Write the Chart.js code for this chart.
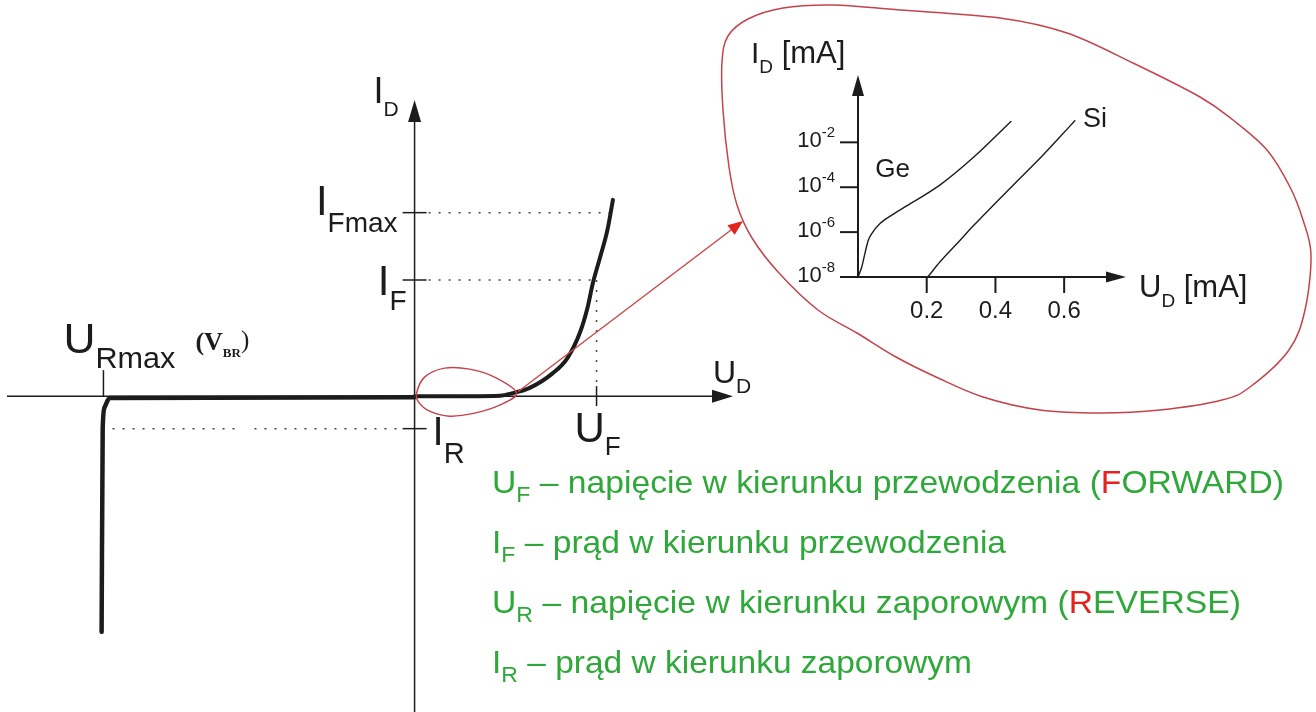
<!DOCTYPE html>
<html lang="pl">
<head>
<meta charset="UTF-8">
<title>Charakterystyka diody</title>
<style>
    body { margin: 0; background: #fff; overflow: hidden; }
    .wrap { position: relative; width: 1316px; height: 712px; }
    .wrap canvas { position: absolute; left: 0; top: 0; }
</style>
</head>
<body>
<div class="wrap">
    <canvas id="charakterystyka" width="1316" height="712"></canvas>
    <canvas id="wstawka" width="1316" height="712"></canvas>
</div>
<script src="https://cdn.jsdelivr.net/npm/chart.js"></script>
<script>
// --- dane: charakterystyka glowna (jednostki wzgledne, U_F = 1, I_F = 1) ---
const przewodzenieU = [0, 0.30, 0.47, 0.54, 0.63, 0.76, 0.84, 0.91, 0.95, 0.98, 1.02, 1.06, 1.09];
const przewodzenieI = [0, 0, 0.004, 0.026, 0.069, 0.198, 0.328, 0.552, 0.759, 0.974, 1.198, 1.431, 1.69];
const zaporoweU = [-1.72, -1.714, -1.703, -1.676, 0];
const zaporoweI = [-2.03, -0.276, -0.095, -0.017, -0.01];

const U_F = 1.0;
const I_F = 1.0;
const I_FMAX = 1.58;
const I_R = -0.28;
const U_RMAX = -1.71;

// --- dane: wstawka logarytmiczna, U_D / I_D [mA] ---
const geU = [0, 0.011, 0.020, 0.030, 0.040, 0.064, 0.104, 0.143, 0.240, 0.337, 0.445];
const geI = [1e-8, 2.8e-8, 1.1e-7, 4.3e-7, 8.5e-7, 2.4e-6, 6.5e-6, 1.5e-5, 1.3e-4, 2.2e-3, 8.5e-2];
const siU = [0.203, 0.240, 0.289, 0.337, 0.396, 0.455, 0.533, 0.582, 0.631];
const siI = [1e-8, 5.0e-8, 3.2e-7, 2.0e-6, 1.7e-5, 1.4e-4, 2.2e-3, 1.4e-2, 9.1e-2];

const tickiU = [0.2, 0.4, 0.6];
const etykietyU = ['0.2', '0.4', '0.6'];
const tickiI = [1e-8, 1e-6, 1e-4, 1e-2];
const wykladnikiI = ['-8', '-6', '-4', '-2'];

const FONT = '"Liberation Sans", Arial, sans-serif';
const SERIF = '"Liberation Serif", "Times New Roman", serif';
const CZARNY = '#1c1c1c';
const ZIELONY = '#2fa83a';
const CZERWONY = '#e3231e';
const OBRYS = '#c4434d';

// fragment napisu: tekst, rozmiar, przesuniecie pionowe, kolor
const cz = (t, r, dy = 0, k = null, f = null, b = false) => ({ t, r, dy, k, f, b });

function napis(ctx, czesci, x, y, wyrownanie = 'left', szerokosc = null) {
    const czcionka = c => `${c.b ? 'bold ' : ''}${c.r}px ${c.f || FONT}`;
    const miary = czesci.map(c => { ctx.font = czcionka(c); return ctx.measureText(c.t).width; });
    const suma = miary.reduce((a, b) => a + b, 0);
    const k = szerokosc ? szerokosc / suma : 1;
    const pelna = suma * k;
    const start = wyrownanie === 'right' ? x - pelna : wyrownanie === 'center' ? x - pelna / 2 : x;
    ctx.save();
    ctx.translate(start, y);
    ctx.scale(k, 1);
    ctx.textAlign = 'left';
    ctx.textBaseline = 'alphabetic';
    let px = 0;
    czesci.forEach((c, i) => {
        ctx.font = czcionka(c);
        ctx.fillStyle = c.k || CZARNY;
        ctx.fillText(c.t, px, c.dy);
        px += miary[i];
    });
    ctx.restore();
}

function grot(ctx, x, y, kat, dl, pol, kolor) {
    ctx.save();
    ctx.translate(x, y);
    ctx.rotate(kat);
    ctx.fillStyle = kolor;
    ctx.beginPath();
    ctx.moveTo(0, 0);
    ctx.lineTo(-dl, -pol);
    ctx.lineTo(-dl, pol);
    ctx.closePath();
    ctx.fill();
    ctx.restore();
}

function linia(ctx, x1, y1, x2, y2) {
    ctx.beginPath();
    ctx.moveTo(x1, y1);
    ctx.lineTo(x2, y2);
    ctx.stroke();
}

// zamknieta gladka krzywa przez punkty (Catmull-Rom)
function petla(ctx, pts) {
    const n = pts.length;
    ctx.beginPath();
    ctx.moveTo(pts[0][0], pts[0][1]);
    for (let i = 0; i < n; i++) {
        const p0 = pts[(i - 1 + n) % n], p1 = pts[i], p2 = pts[(i + 1) % n], p3 = pts[(i + 2) % n];
        ctx.bezierCurveTo(
            p1[0] + (p2[0] - p0[0]) / 6, p1[1] + (p2[1] - p0[1]) / 6,
            p2[0] - (p3[0] - p1[0]) / 6, p2[1] - (p3[1] - p1[1]) / 6,
            p2[0], p2[1]);
    }
    ctx.closePath();
    ctx.stroke();
}

const punkty = (xs, ys) => xs.map((v, i) => ({ x: v, y: ys[i] }));

// osie, znaczniki i linie kropkowane wykresu glownego
const osieGlowne = {
    id: 'osieGlowne',
    beforeDatasetsDraw(chart) {
        const { ctx, chartArea: a, scales: { x, y } } = chart;
        const x0 = x.getPixelForValue(0), y0 = y.getPixelForValue(0);
        ctx.save();
        ctx.strokeStyle = CZARNY;
        ctx.lineWidth = 1.5;
        linia(ctx, a.left, y0, a.right - 16, y0);
        linia(ctx, x0, a.bottom, x0, a.top + 18);
        grot(ctx, a.right, y0, 0, 21, 6.5, CZARNY);
        grot(ctx, x0, a.top, -Math.PI / 2, 22, 6.5, CZARNY);

        [I_FMAX, I_F, I_R].forEach(v => linia(ctx, x0 - 12, y.getPixelForValue(v), x0 + 12, y.getPixelForValue(v)));
        linia(ctx, x.getPixelForValue(U_F), y0 - 10, x.getPixelForValue(U_F), y0 + 10);
        linia(ctx, x.getPixelForValue(U_RMAX), y0 - 26, x.getPixelForValue(U_RMAX), y0);

        ctx.setLineDash([2, 8]);
        ctx.strokeStyle = '#444';
        linia(ctx, x0 + 14, y.getPixelForValue(I_FMAX), x.getPixelForValue(1.08), y.getPixelForValue(I_FMAX));
        linia(ctx, x0 + 14, y.getPixelForValue(I_F), x.getPixelForValue(U_F), y.getPixelForValue(I_F));
        linia(ctx, x.getPixelForValue(U_F), y.getPixelForValue(I_F), x.getPixelForValue(U_F), y0 - 10);
        linia(ctx, x.getPixelForValue(-1.66), y.getPixelForValue(I_R), x.getPixelForValue(-0.98), y.getPixelForValue(I_R));
        linia(ctx, x.getPixelForValue(-0.88), y.getPixelForValue(I_R), x0 - 12, y.getPixelForValue(I_R));
        ctx.restore();
    },
    afterDatasetsDraw(chart) {
        const { ctx, chartArea: a, scales: { x, y } } = chart;
        const x0 = x.getPixelForValue(0), y0 = y.getPixelForValue(0);

        napis(ctx, [cz('I', 36), cz('D', 21, 13)], x0 - 16, a.top + 3, 'right');
        napis(ctx, [cz('I', 42), cz('Fmax', 28, 17)], x0 - 17, y.getPixelForValue(I_FMAX) + 2, 'right');
        napis(ctx, [cz('I', 42), cz('F', 28, 15)], x0 - 8, y.getPixelForValue(I_F) + 15, 'right');
        napis(ctx, [cz('I', 40), cz('R', 29, 18)], x0 + 18, y.getPixelForValue(I_R) + 16);
        napis(ctx, [cz('U', 42), cz('F', 26, 13)], x.getPixelForValue(U_F) - 22, y0 + 46);
        napis(ctx, [cz('U', 42), cz('Rmax', 29, 15)], x.getPixelForValue(U_RMAX) - 40, y0 - 43, 'left', 112);
        napis(ctx, [cz('U', 32), cz('D', 21, 10)], a.right - 20, y0 - 13);
        napis(ctx, [cz('(V', 26, 0, null, SERIF, true), cz('BR', 13, 7, null, SERIF, true), cz(')', 25, -2, null, SERIF)],
            x.getPixelForValue(U_RMAX) + 92, y0 - 46);

        // obrys wokol poczatku ukladu i strzalka do powiekszenia
        ctx.save();
        ctx.strokeStyle = OBRYS;
        ctx.lineWidth = 1.5;
        petla(ctx, [[x0 + 2, y0 - 3], [x0 + 10, y0 - 19], [x0 + 30, y0 - 28], [x0 + 55, y0 - 27],
            [x0 + 80, y0 - 19], [x0 + 102, y0 - 3], [x0 + 85, y0 + 9], [x0 + 60, y0 + 17],
            [x0 + 35, y0 + 20], [x0 + 15, y0 + 15], [x0 + 4, y0 + 6]]);
        const sx = x.getPixelForValue(0.57), sy = y.getPixelForValue(0.04);
        const kx = 743, ky = 221;
        ctx.strokeStyle = '#cc4a4a';
        linia(ctx, sx, sy, kx - 8, ky + 6);
        grot(ctx, kx, ky, Math.atan2(ky - sy, kx - sx), 15, 6, CZERWONY);
        ctx.restore();

        // objasnienia symboli
        const lewa = 492;
        const r = 32, rs = 22, ds = 9;
        napis(ctx, [cz('U', r, 0, ZIELONY), cz('F', rs, ds, ZIELONY),
            cz(' – napięcie w kierunku przewodzenia (', r, 0, ZIELONY), cz('F', r, 0, CZERWONY),
            cz('ORWARD)', r, 0, ZIELONY)], lewa, 493, 'left', 792);
        napis(ctx, [cz('I', r, 0, ZIELONY), cz('F', rs, ds, ZIELONY),
            cz(' – prąd w kierunku przewodzenia', r, 0, ZIELONY)], lewa, 553, 'left', 514);
        napis(ctx, [cz('U', r, 0, ZIELONY), cz('R', rs, ds, ZIELONY),
            cz(' – napięcie w kierunku zaporowym (', r, 0, ZIELONY), cz('R', r, 0, CZERWONY),
            cz('EVERSE)', r, 0, ZIELONY)], lewa, 613, 'left', 749);
        napis(ctx, [cz('I', r, 0, ZIELONY), cz('R', rs, ds, ZIELONY),
            cz(' – prąd w kierunku zaporowym', r, 0, ZIELONY)], lewa, 673, 'left', 480);
    }
};

// osie i opisy wstawki logarytmicznej
const osieWstawki = {
    id: 'osieWstawki',
    beforeDatasetsDraw(chart) {
        const { ctx, chartArea: a, scales: { x, y } } = chart;
        const x0 = x.getPixelForValue(0), y0 = y.getPixelForValue(tickiI[0]);
        ctx.save();
        // obrys powiekszenia
        ctx.strokeStyle = OBRYS;
        ctx.lineWidth = 1.5;
        petla(ctx, [[722, 62], [728, 36], [748, 19], [783, 8], [833, 5], [900, 10], [1000, 18], [1067, 33],
            [1133, 63], [1200, 97], [1233, 120], [1267, 150], [1290, 187], [1303, 220], [1311, 255],
            [1305, 310], [1289, 350], [1250, 387], [1222, 400], [1160, 410], [1100, 413], [1040, 410],
            [983, 397], [936, 377], [896, 357], [857, 333], [818, 310], [779, 273], [752, 238],
            [737, 205], [729, 167], [723, 110]]);

        ctx.strokeStyle = CZARNY;
        ctx.lineWidth = 2;
        linia(ctx, x0 - 18, y0, a.right - 18, y0);
        linia(ctx, x0, y0, x0, a.top + 20);
        grot(ctx, a.right, y0, 0, 20, 5.5, CZARNY);
        grot(ctx, x0, a.top, -Math.PI / 2, 21, 6, CZARNY);
        tickiI.forEach((v, i) => {
            const py = y.getPixelForValue(v);
            linia(ctx, x0 - 18, py, x0, py);
            napis(ctx, [cz('10', 22), cz(wykladnikiI[i], 15, -10)], x0 - 23, py + 5, 'right');
        });
        tickiU.forEach((v, i) => {
            const px = x.getPixelForValue(v);
            linia(ctx, px, y0, px, y0 + 16);
            napis(ctx, [cz(etykietyU[i], 24)], px, y0 + 41, 'center');
        });
        ctx.restore();
    },
    afterDatasetsDraw(chart) {
        const { ctx, chartArea: a, scales: { x, y } } = chart;
        const x0 = x.getPixelForValue(0), y0 = y.getPixelForValue(tickiI[0]);
        napis(ctx, [cz('I', 30), cz('D', 19, 10), cz(' [mA]', 31)], x0 - 107, a.top - 12);
        napis(ctx, [cz('U', 31), cz('D', 19, 10), cz(' [mA]', 31)], a.right + 13, y0 + 20);
        napis(ctx, [cz('Ge', 26)], x.getPixelForValue(0.05), y.getPixelForValue(2.9e-4));
        napis(ctx, [cz('Si', 27)], x.getPixelForValue(0.655), y.getPixelForValue(4.8e-2));
    }
};

const wspolne = {
    responsive: false,
    animation: false,
    events: [],
    plugins: { legend: { display: false }, tooltip: { enabled: false } }
};

const styl = (szer) => ({
    showLine: true,
    borderColor: CZARNY,
    borderWidth: szer,
    borderCapStyle: 'round',
    borderJoinStyle: 'round',
    pointRadius: 0,
    cubicInterpolationMode: 'monotone'
});

new Chart(document.getElementById('charakterystyka'), {
    type: 'scatter',
    data: {
        datasets: [
            Object.assign({ data: punkty(przewodzenieU, przewodzenieI) }, styl(4)),
            Object.assign({ data: punkty(zaporoweU, zaporoweI) }, styl(4.5))
        ]
    },
    options: Object.assign({}, wspolne, {
        layout: { padding: { left: 7, right: 583, top: 100, bottom: 0 } },
        scales: {
            x: { type: 'linear', min: -2.24, max: 1.75, display: false },
            y: { type: 'linear', min: -2.72, max: 2.55, display: false }
        }
    }),
    plugins: [osieGlowne]
});

new Chart(document.getElementById('wstawka'), {
    type: 'scatter',
    data: {
        datasets: [
            Object.assign({ data: punkty(geU, geI) }, styl(1.4)),
            Object.assign({ data: punkty(siU, siI) }, styl(1.4))
        ]
    },
    options: Object.assign({}, wspolne, {
        layout: { padding: { left: 858, right: 190, top: 75, bottom: 435 } },
        scales: {
            x: { type: 'linear', min: 0, max: 0.78, display: false },
            y: { type: 'logarithmic', min: 1e-8, max: 10, display: false }
        }
    }),
    plugins: [osieWstawki]
});
</script>
</body>
</html>
